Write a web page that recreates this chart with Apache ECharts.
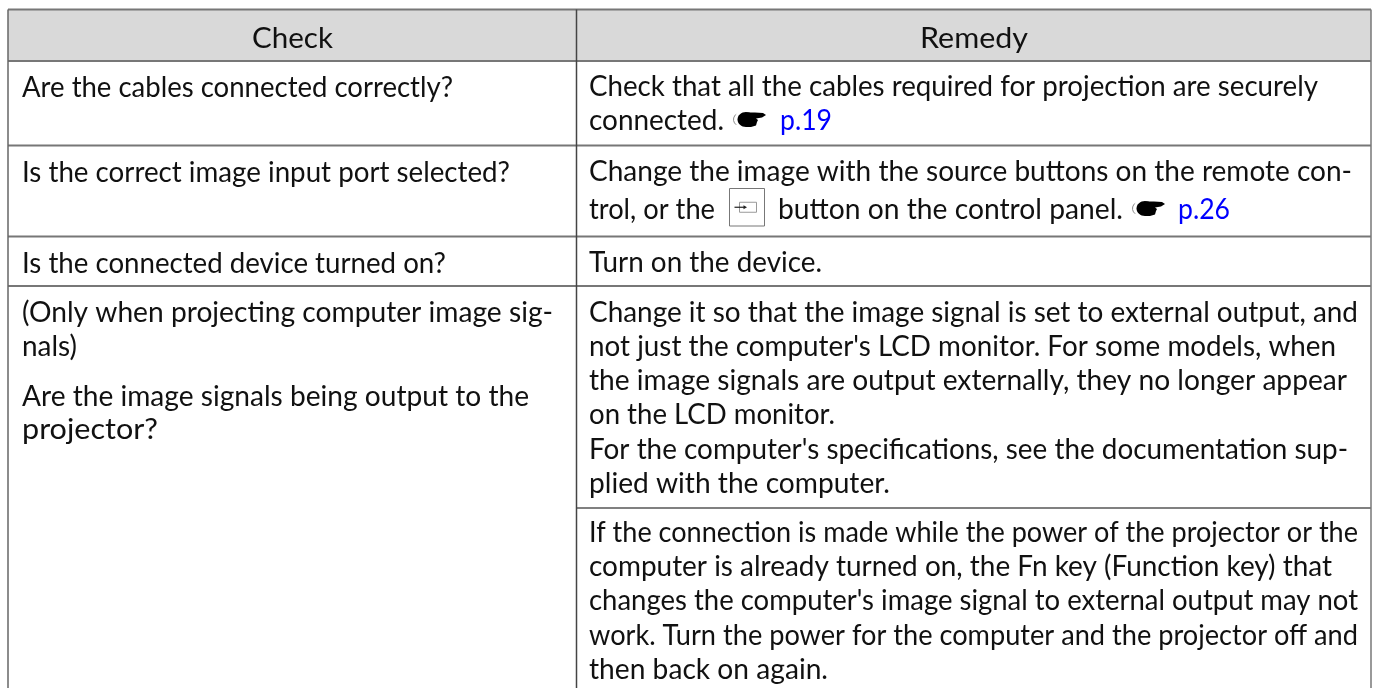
<!DOCTYPE html>
<html>
<head>
<meta charset="utf-8">
<style>html,body{margin:0;padding:0;background:#fff}#main{width:1376px;height:688px}</style>
<script src="https://cdn.jsdelivr.net/npm/echarts@6/dist/echarts.min.js"></script>
</head>
<body>
<div id="main"></div>
<script>
var headers = ['Check', 'Remedy'];
var checkLines = [
    'Are the cables connected correctly?',
    'Is the correct image input port selected?',
    'Is the connected device turned on?',
    '(Only when projecting computer image sig-',
    'nals)',
    'Are the image signals being output to the',
    'projector?'
];
var remedyLines = [
    'Check that all the cables required for projection are securely',
    'connected.',
    'Change the image with the source buttons on the remote con-',
    'trol, or the',
    'button on the control panel.',
    'Turn on the device.',
    'Change it so that the image signal is set to external output, and',
    "not just the computer's LCD monitor. For some models, when",
    'the image signals are output externally, they no longer appear',
    'on the LCD monitor.',
    "For the computer's specifications, see the documentation sup-",
    'plied with the computer.',
    'If the connection is made while the power of the projector or the',
    'computer is already turned on, the Fn key (Function key) that',
    "changes the computer's image signal to external output may not",
    'work. Turn the power for the computer and the projector off and',
    'then back on again.'
];
var pageRefs = ['p.19', 'p.26'];

// layout
var colEdges = [8, 576.5, 1371];
var rowEdges = [9.5, 61, 145.5, 236.5, 286];
var splitRow = 508; // only crosses the remedy column
var headBase = 46;
var headStart = [252, 920];
var headEnd = [333, 1028];
var checkBase = [95, 180, 271, 320, 354, 404, 437];
var checkEnd = [453, 510, 446, 553, 77, 529, 158];
var remedyBase = [94, 128, 179, 217, 217, 270, 320, 354, 388, 422, 457, 491, 540, 574, 608, 643, 677];
var remedyStart = [589, 589, 589, 589, 778, 589, 589, 589, 589, 589, 589, 589, 589, 589, 589, 589, 589];
var remedyEnd = [1318, 724, 1352, 715, 1123, 822, 1358, 1336, 1347, 835, 1348, 890, 1358, 1332, 1358, 1358, 828];
var refBase = [128, 217];
var refStart = [780, 1178];
var refEnd = [832, 1230];
var handStart = [733, 1132];
var fontFamily = 'Lato, "Noto Sans", sans-serif';
var fontSize = 28;

var measure = document.createElement('canvas').getContext('2d');
measure.font = fontSize + 'px ' + fontFamily;

function textItem(text, x0, x1, base, color) {
    return { value: [x0, base], text: text, color: color, scale: (x1 - x0) / measure.measureText(text).width };
}

var textItems = [];
headers.forEach(function (t, i) {
    textItems.push(textItem(t, headStart[i], headEnd[i], headBase, '#111'));
});
checkLines.forEach(function (t, i) {
    textItems.push(textItem(t, 22, checkEnd[i], checkBase[i], '#111'));
});
remedyLines.forEach(function (t, i) {
    textItems.push(textItem(t, remedyStart[i], remedyEnd[i], remedyBase[i], '#111'));
});
pageRefs.forEach(function (t, i) {
    textItems.push(textItem(t, refStart[i], refEnd[i], refBase[i], '#0000ff'));
});

var ruleItems = [];
rowEdges.forEach(function (y, i) {
    ruleItems.push([colEdges[0], y, colEdges[2], y, '#777777', 2]);
});
ruleItems.push([colEdges[1], splitRow, colEdges[2], splitRow, '#808080', 2]);
ruleItems.push([colEdges[0], rowEdges[0], colEdges[0], 688, '#666666', 1.5]);
ruleItems.push([colEdges[1], rowEdges[0], colEdges[1], 688, '#444444', 1.5]);
ruleItems.push([colEdges[2], rowEdges[0], colEdges[2], 688, '#777777', 1.5]);

var handItems = handStart.map(function (x, i) {
    return [x, refBase[i]];
});

var chart = echarts.init(document.getElementById('main'), null, { renderer: 'canvas' });
var option = {
    animation: false,
    grid: { left: 0, right: 0, top: 0, bottom: 0 },
    xAxis: { type: 'value', min: 0, max: 1376, show: false },
    yAxis: { type: 'value', min: 0, max: 688, inverse: true, show: false },
    series: [{
        // header band
        type: 'custom',
        silent: true,
        clip: false,
        data: [[colEdges[0], rowEdges[0], colEdges[2], rowEdges[1]]],
        renderItem: function (params, api) {
            var a = api.coord([api.value(0), api.value(1)]);
            var b = api.coord([api.value(2), api.value(3)]);
            return { type: 'rect', shape: { x: a[0], y: a[1], width: b[0] - a[0], height: b[1] - a[1] }, style: { fill: '#d9d9d9' } };
        }
    }, {
        // source button icon
        type: 'custom',
        silent: true,
        clip: false,
        data: [[729.5, 188.5, 764.5, 226]],
        renderItem: function (params, api) {
            var a = api.coord([api.value(0), api.value(1)]);
            var b = api.coord([api.value(2), api.value(3)]);
            var cy = (a[1] + b[1]) / 2;
            return {
                type: 'group',
                children: [
                    { type: 'rect', shape: { x: a[0], y: a[1], width: b[0] - a[0], height: b[1] - a[1] }, style: { fill: '#fff', stroke: '#777', lineWidth: 1 } },
                    { type: 'rect', shape: { x: a[0] + 10, y: cy - 5, width: 17, height: 10 }, style: { fill: '#fff', stroke: '#999', lineWidth: 1 } },
                    { type: 'line', shape: { x1: a[0] + 5, y1: cy, x2: a[0] + 15, y2: cy }, style: { stroke: '#222', lineWidth: 1.2 } },
                    { type: 'polygon', shape: { points: [[a[0] + 17.5, cy], [a[0] + 14, cy - 2], [a[0] + 14, cy + 2]] }, style: { fill: '#222' } }
                ]
            };
        }
    }, {
        // pointing hand in front of the page refs
        type: 'custom',
        silent: true,
        clip: false,
        data: handItems,
        renderItem: function (params, api) {
            var p = api.coord([api.value(0), api.value(1)]);
            return {
                type: 'group',
                x: p[0],
                y: p[1] - 17,
                children: [
                    { type: 'arc', shape: { cx: 7, cy: 8.5, r: 6.5, startAngle: Math.PI * 0.7, endAngle: Math.PI * 1.3 }, style: { fill: 'none', stroke: '#888', lineWidth: 1 } },
                    { type: 'ellipse', shape: { cx: 13, cy: 8.5, rx: 8.5, ry: 7.5 }, style: { fill: '#000' } },
                    { type: 'polygon', shape: { points: [[14, 1.5], [22, 1.5], [30, 2], [33, 4], [29, 6.5], [23, 7.5], [25, 9], [24, 11], [23, 14.5], [18, 16], [13, 16]] }, style: { fill: '#000' } }
                ]
            };
        }
    }, {
        // table rules
        type: 'custom',
        silent: true,
        clip: false,
        data: ruleItems,
        renderItem: function (params, api) {
            var a = api.coord([api.value(0), api.value(1)]);
            var b = api.coord([api.value(2), api.value(3)]);
            var r = ruleItems[params.dataIndex];
            return { type: 'line', shape: { x1: a[0], y1: a[1], x2: b[0], y2: b[1] }, style: { stroke: r[4], lineWidth: r[5] } };
        }
    }, {
        // text, each line fitted to the width it has in the picture
        type: 'custom',
        silent: true,
        clip: false,
        data: textItems,
        renderItem: function (params, api) {
            var p = api.coord([api.value(0), api.value(1)]);
            var it = textItems[params.dataIndex];
            return {
                type: 'text',
                x: p[0],
                y: p[1] - fontSize * 0.26,
                scaleX: it.scale,
                style: {
                    x: 0,
                    y: 0,
                    text: it.text,
                    fill: it.color,
                    align: 'left',
                    verticalAlign: 'middle',
                    font: fontSize + 'px ' + fontFamily
                }
            };
        }
    }]
};
chart.setOption(option);
window.addEventListener('resize', function () {
    chart.resize();
});
</script>
</body>
</html>
